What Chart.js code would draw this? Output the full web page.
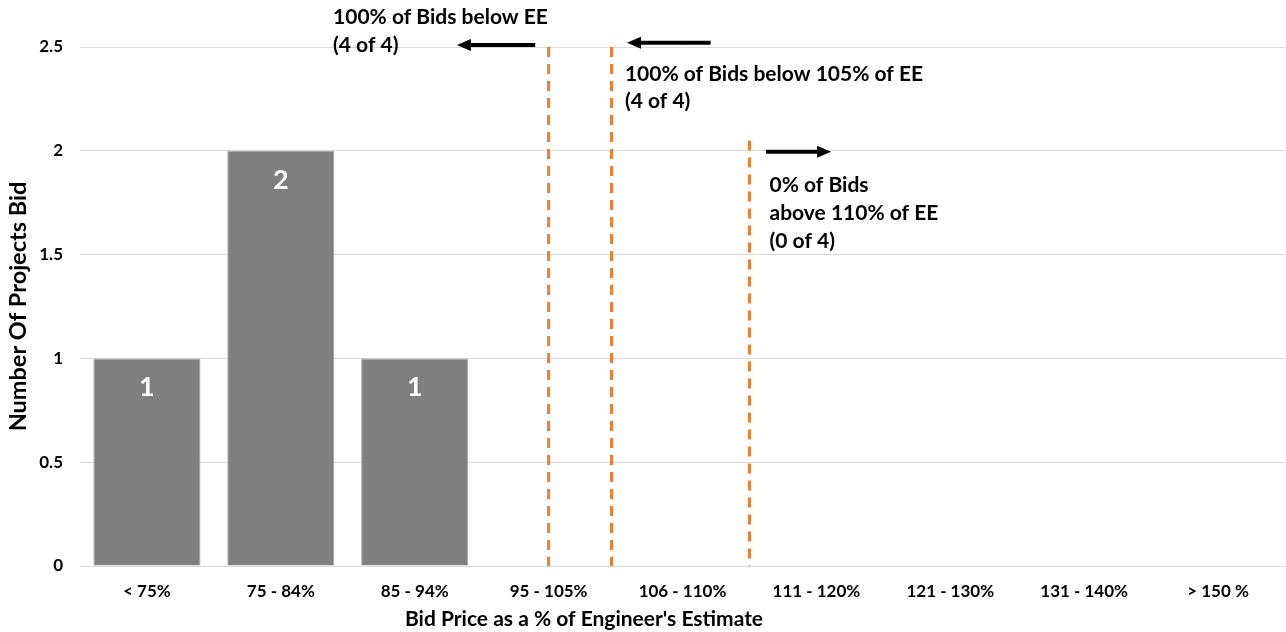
<!DOCTYPE html>
<html>
<head>
<meta charset="utf-8">
<script src="https://cdn.jsdelivr.net/npm/chart.js@4.4.1/dist/chart.umd.min.js"></script>
<style>
  html, body { margin: 0; padding: 0; background: #ffffff; }
  #wrap { width: 1286px; height: 632px; position: relative; }
</style>
</head>
<body>
<div id="wrap"><canvas id="chart"></canvas></div>
<script>
// Bid ranges (as a share of the engineer's estimate) and project counts
const categories = ['< 75%', '75 - 84%', '85 - 94%', '95 - 105%', '106 - 110%', '111 - 120%', '121 - 130%', '131 - 140%', '> 150 %'];
const projectCounts = [1, 2, 1, 0, 0, 0, 0, 0, 0];
const yTicks = [0, 0.5, 1, 1.5, 2, 2.5];

// Reference thresholds, positioned on the category index axis
const thresholdNames = ['EE (100%)', '105% of EE', '110% of EE'];
const thresholdIndex = [3, 3.47, 4.5];
const thresholdTop = [2.5, 2.5, 2.05];

// Callout text and arrows (index / value units)
const callouts = [
  { lines: ['100% of Bids below EE', '(4 of 4)'], x: 1.39, y: [2.645, 2.51],
    arrow: { from: 2.9, to: 2.315, y: 2.51 } },
  { lines: ['100% of Bids below 105% of EE', '(4 of 4)'], x: 3.57, y: [2.37, 2.24],
    arrow: { from: 4.21, to: 3.585, y: 2.52 } },
  { lines: ['0% of Bids', 'above 110% of EE', '(0 of 4)'], x: 4.65, y: [1.835, 1.70, 1.566],
    arrow: { from: 4.623, to: 5.11, y: 1.995 } }
];

const FONT = 'Lato, "Open Sans", sans-serif';
const ORANGE = '#ed7d31';

const thresholdSets = thresholdIndex.map((ix, i) => ({
  type: 'line',
  label: thresholdNames[i],
  xAxisID: 'xi',
  data: [{ x: ix, y: thresholdTop[i] }, { x: ix, y: 0 }],
  borderColor: ORANGE,
  borderWidth: 3,
  borderDash: [10, 7],
  pointRadius: 0,
  fill: false,
  order: 0
}));

const overlay = {
  id: 'overlay',
  afterDatasetsDraw(chart) {
    const ctx = chart.ctx;
    const xi = chart.scales.xi, y = chart.scales.y;
    const meta = chart.getDatasetMeta(0);
    ctx.save();
    // value labels inside the bars
    ctx.fillStyle = '#ffffff';
    ctx.font = 'bold 27px ' + FONT;
    ctx.textAlign = 'center';
    ctx.textBaseline = 'middle';
    meta.data.forEach((bar, i) => {
      if (projectCounts[i] > 0) ctx.fillText(String(projectCounts[i]), bar.x, bar.y + 29);
    });
    // callouts
    ctx.fillStyle = '#000000';
    ctx.strokeStyle = '#000000';
    ctx.font = 'bold 21px ' + FONT;
    ctx.textAlign = 'left';
    callouts.forEach(c => {
      const lx = xi.getPixelForValue(c.x);
      c.lines.forEach((t, k) => ctx.fillText(t, lx, y.getPixelForValue(c.y[k])));
      const x0 = xi.getPixelForValue(c.arrow.from);
      const x1 = xi.getPixelForValue(c.arrow.to);
      const ay = y.getPixelForValue(c.arrow.y);
      const dir = Math.sign(x1 - x0);
      const head = 14;
      ctx.lineWidth = 4;
      ctx.beginPath();
      ctx.moveTo(x0, ay);
      ctx.lineTo(x1 - dir * head, ay);
      ctx.stroke();
      ctx.beginPath();
      ctx.moveTo(x1, ay);
      ctx.lineTo(x1 - dir * head, ay - 6);
      ctx.lineTo(x1 - dir * head, ay + 6);
      ctx.closePath();
      ctx.fill();
    });
    ctx.restore();
  },
  afterDraw(chart) {
    const ctx = chart.ctx;
    const a = chart.chartArea;
    ctx.save();
    ctx.fillStyle = '#000000';
    ctx.font = 'bold 21px ' + FONT;
    ctx.textAlign = 'center';
    ctx.textBaseline = 'middle';
    ctx.fillText("Bid Price as a % of Engineer's Estimate", 584, 619);
    ctx.translate(18, (a.top + a.bottom) / 2);
    ctx.rotate(-Math.PI / 2);
    ctx.font = 'bold 23.5px ' + FONT;
    ctx.fillText('Number Of Projects Bid', 0, 0);
    ctx.restore();
  }
};

new Chart(document.getElementById('chart'), {
  type: 'bar',
  data: {
    labels: categories,
    datasets: [
      {
        type: 'bar',
        label: 'Projects',
        data: projectCounts,
        backgroundColor: '#7f7f7f',
        borderColor: '#a6a6a6',
        borderWidth: 1,
        barPercentage: 0.8,
        categoryPercentage: 1,
        grouped: false,
        order: 1
      },
      ...thresholdSets
    ]
  },
  options: {
    responsive: true,
    maintainAspectRatio: false,
    animation: false,
    devicePixelRatio: 1,
    layout: { padding: { top: 47, right: 1, left: 0, bottom: 0 } },
    plugins: { legend: { display: false }, tooltip: { enabled: false } },
    scales: {
      x: {
        type: 'category',
        offset: true,
        grid: { display: false, drawTicks: false },
        border: { color: '#d9d9d9', width: 1 },
        ticks: { color: '#000', font: { family: FONT, size: 17, weight: 'bold' }, padding: 15, maxRotation: 0, autoSkip: false },
        afterFit(s) { s.height = 66; }
      },
      xi: {
        type: 'linear',
        display: false,
        offset: false,
        grid: { offset: false },
        bounds: 'data',
        min: -0.5,
        max: 8.5
      },
      y: {
        type: 'linear',
        min: 0,
        max: 2.5,
        afterBuildTicks(s) { s.ticks = yTicks.map(v => ({ value: v })); },
        grid: { color: '#d9d9d9', lineWidth: 1, drawTicks: false },
        border: { display: false },
        ticks: { color: '#000', font: { family: FONT, size: 17, weight: 'bold' }, padding: 17,
                 callback: v => String(v) },
        afterFit(s) { s.width = 80; }
      }
    }
  },
  plugins: [overlay]
});
</script>
</body>
</html>
